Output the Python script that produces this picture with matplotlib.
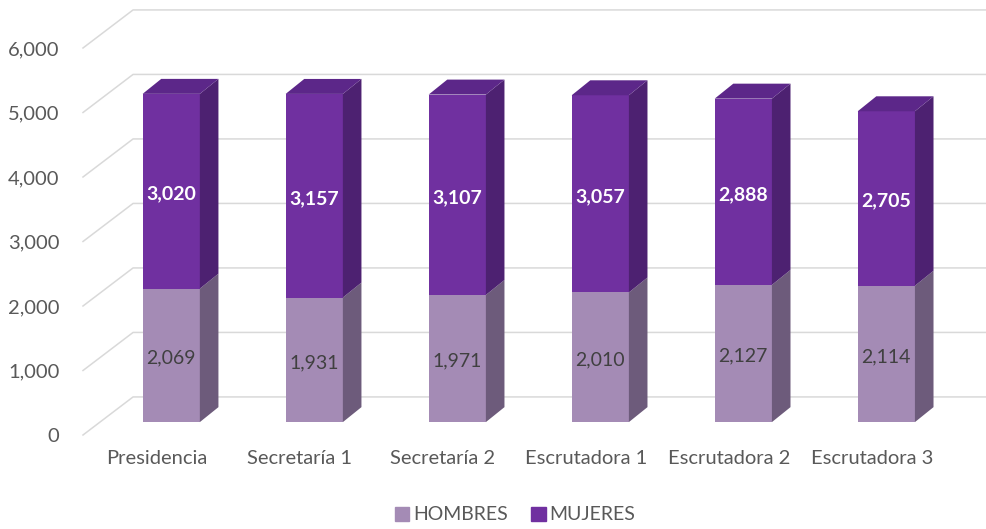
import matplotlib

matplotlib.use("Agg")
import matplotlib.pyplot as plt
from matplotlib.patches import Polygon, Patch
from matplotlib.ticker import FuncFormatter

# Values.
CATEGORIES = ["Presidencia", "Secretaría 1", "Secretaría 2", "Escrutadora 1", "Escrutadora 2", "Escrutadora 3"]
HOMBRES = [2069, 1931, 1971, 2010, 2127, 2114]
MUJERES = [3020, 3157, 3107, 3057, 2888, 2705]
Y_TICKS = [0, 1000, 2000, 3000, 4000, 5000, 6000]

# Palette (Excel-like purple 3D columns): front, side, top.
HOMBRES_FACES = ("#a48bb5", "#6d5b7b", "#8a739a")
MUJERES_FACES = ("#7030a0", "#4d2171", "#5c2789")
GRID_COLOR = "#d9d9d9"
TEXT_COLOR = "#595959"

# Fake 3D geometry in data units (x in categories, y in values).
FLOOR_DX, FLOOR_DY = 0.35, 590  # depth of the floor / back wall
BAR_FX, BAR_FY = 0.10, 200  # front face offset from the front plane
SIDE_DX, SIDE_DY = 0.13, 232  # bar depth
BAR_W = 0.40
XLIM = (-0.517, 5.797)
YLIM = (0, 6744)

plt.rcParams["font.family"] = ["Lato", "DejaVu Sans"]

fig = plt.figure(figsize=(9.86, 5.29), dpi=100)
ax = fig.add_axes([83 / 986, (529 - 435) / 529, (986 - 83) / 986, 435 / 529])
ax.set_xlim(*XLIM)
ax.set_ylim(*YLIM)
for s in ax.spines.values():
    s.set_visible(False)

# back wall gridlines with a diagonal running over the floor/side wall
for v in Y_TICKS:
    ax.plot([XLIM[0], XLIM[0] + FLOOR_DX, XLIM[1]], [v, v + FLOOR_DY, v + FLOOR_DY],
            color=GRID_COLOR, lw=1.1, zorder=1, clip_on=False)


def draw_block(x0, y0, h, faces):
    front, side, top = faces
    x1 = x0 + BAR_W
    ax.add_patch(Polygon([(x0, y0), (x1, y0), (x1, y0 + h), (x0, y0 + h)], color=front, zorder=3, lw=0))
    ax.add_patch(Polygon([(x1, y0), (x1 + SIDE_DX, y0 + SIDE_DY), (x1 + SIDE_DX, y0 + h + SIDE_DY), (x1, y0 + h)],
                         color=side, zorder=3, lw=0))
    return top


for i, (h, m) in enumerate(zip(HOMBRES, MUJERES)):
    x0 = i + BAR_FX - BAR_W / 2
    draw_block(x0, BAR_FY, h, HOMBRES_FACES)
    top = draw_block(x0, BAR_FY + h, m, MUJERES_FACES)
    ytop = BAR_FY + h + m
    ax.add_patch(Polygon([(x0, ytop), (x0 + BAR_W, ytop), (x0 + BAR_W + SIDE_DX, ytop + SIDE_DY),
                          (x0 + SIDE_DX, ytop + SIDE_DY)], color=top, zorder=3, lw=0))
    ax.text(i + BAR_FX, BAR_FY + h / 2 - 40, f"{h:,}", ha="center", va="center", fontsize=14,
            color="#404040", zorder=4)
    ax.text(i + BAR_FX, BAR_FY + h + m / 2 - 40, f"{m:,}", ha="center", va="center", fontsize=14,
            color="white", fontweight="bold", zorder=4)

ax.set_yticks(Y_TICKS)
ax.yaxis.set_major_formatter(FuncFormatter(lambda v, _: f"{int(v):,}"))
ax.set_xticks(range(len(CATEGORIES)))
ax.set_xticklabels(CATEGORIES)
ax.tick_params(length=0, colors=TEXT_COLOR, labelsize=14.5)
ax.tick_params(axis="y", pad=17)
ax.tick_params(axis="x", pad=11)

handles = [Patch(color=HOMBRES_FACES[0], label="HOMBRES"), Patch(color=MUJERES_FACES[0], label="MUJERES")]
fig.legend(handles=handles, loc="center", bbox_to_anchor=(515 / 986, 1 - 515 / 529), ncol=2, frameon=False,
           fontsize=14, handlelength=0.75, handleheight=0.75, handletextpad=0.2, columnspacing=1.2,
           labelcolor=TEXT_COLOR)

fig.savefig("out.png", dpi=100)
